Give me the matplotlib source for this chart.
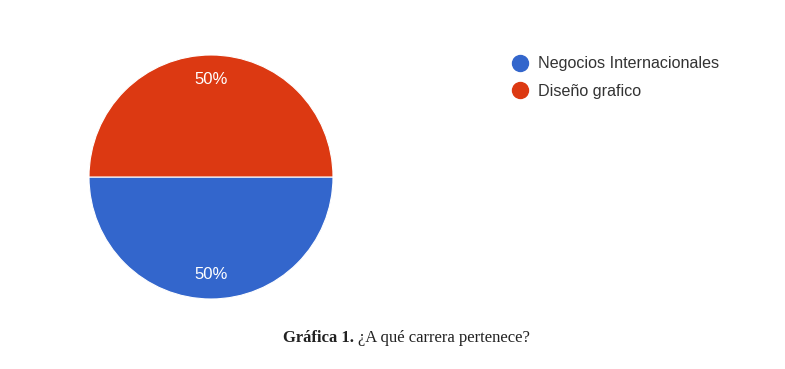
import matplotlib.pyplot as plt
from matplotlib.lines import Line2D

# data
carreras = ['Negocios Internacionales', 'Diseño grafico']
valores = [50, 50]
colores = ['#3366cc', '#dc3912']

fig = plt.figure(figsize=(7.85, 3.69), dpi=100)
fig.patch.set_facecolor('white')

# pie axes, centered at about (211, 177) px with radius ~122 px
ax = fig.add_axes([89 / 785, (369 - 299) / 369, 244 / 785, 244 / 369])
wedges, texts, autotexts = ax.pie(valores, colors=colores, startangle=180,
                                  counterclock=True, autopct='%1.0f%%',
                                  pctdistance=0.8,
                                  wedgeprops=dict(edgecolor='white', linewidth=0.8),
                                  textprops=dict(color='white', fontsize=12,
                                                 family='Liberation Sans'))
ax.set_xlim(-1, 1)
ax.set_ylim(-1, 1)
ax.set_aspect('auto')
ax.axis('off')

# legend with round markers
handles = [Line2D([], [], marker='o', linestyle='none', markersize=11.5,
                  markerfacecolor=c, markeredgecolor=c) for c in colores]
fig.legend(handles, carreras, loc='upper left',
           bbox_to_anchor=(504 / 785, 1 - 50 / 369), frameon=False,
           prop=dict(family='Liberation Sans', size=11.6),
           labelcolor='#333333', handletextpad=0.5, labelspacing=0.75,
           handlelength=1.2, borderaxespad=0)

# caption
fig.text(283 / 785, 1 - 338 / 369, 'Gráfica 1.', fontsize=12, fontweight='bold',
         family='Liberation Serif', color='#222222', va='center', ha='left')
fig.text(358 / 785, 1 - 338 / 369, '¿A qué carrera pertenece?', fontsize=12,
         family='Liberation Serif', color='#222222', va='center', ha='left')

fig.savefig('out.png', dpi=100, facecolor='white')
